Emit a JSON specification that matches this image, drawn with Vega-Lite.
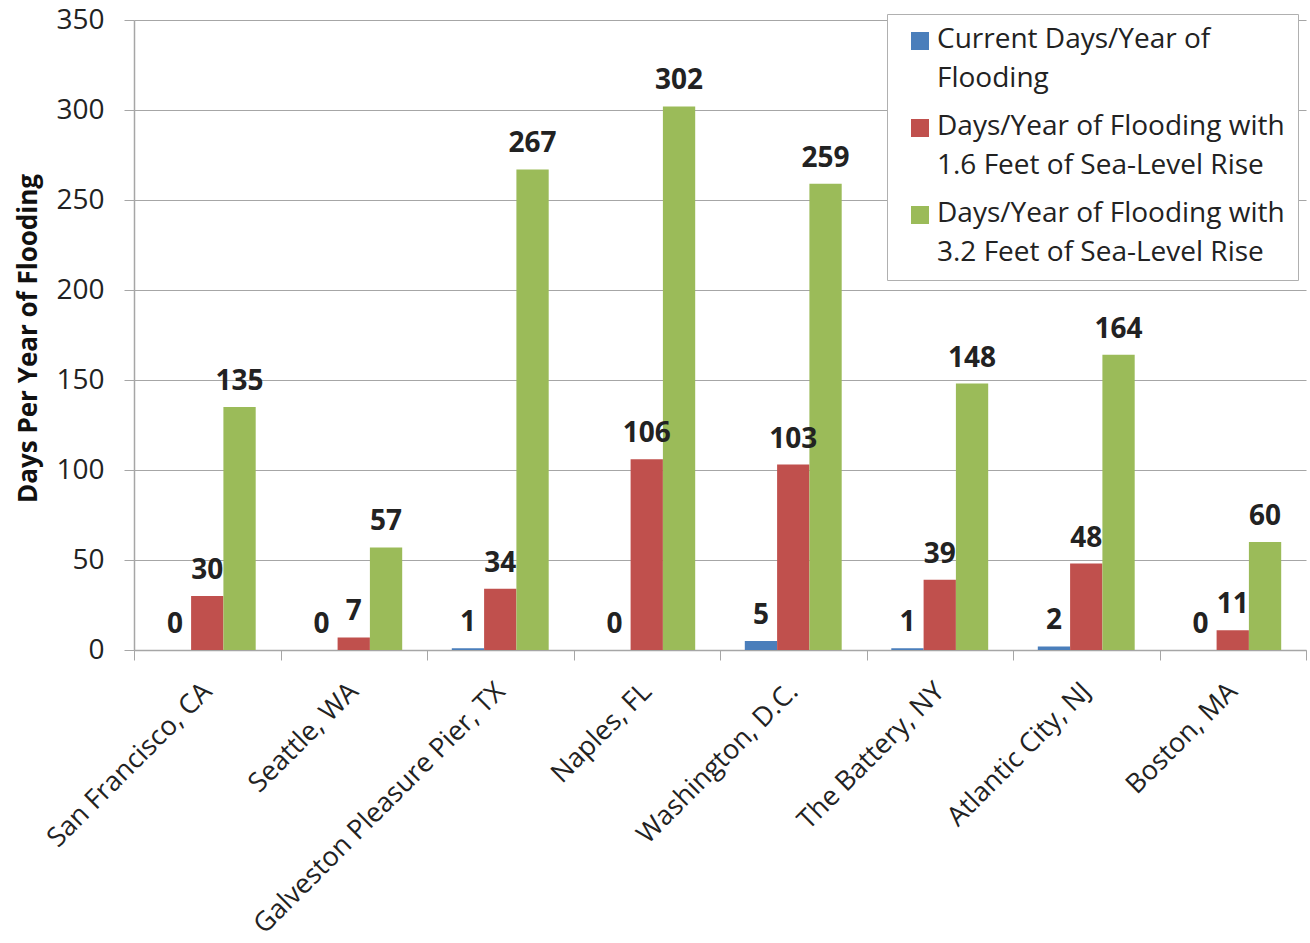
{
  "$schema": "https://vega.github.io/schema/vega-lite/v6.json",
  "width": 1172,
  "height": 630,
  "autosize": {"type": "none"},
  "padding": {"left": 134, "top": 20, "right": 4, "bottom": 293},
  "background": "white",
  "config": {
    "view": {"stroke": null},
    "font": "Open Sans",
    "axis": {"labelFont": "Open Sans", "titleFont": "Open Sans"},
    "legend": {"labelFont": "Open Sans"}
  },
  "data": {
    "values": [
      {"city": "San Francisco, CA", "series": "Current Days/Year of Flooding", "days": 0},
      {"city": "San Francisco, CA", "series": "Days/Year of Flooding with 1.6 Feet of Sea-Level Rise", "days": 30},
      {"city": "San Francisco, CA", "series": "Days/Year of Flooding with 3.2 Feet of Sea-Level Rise", "days": 135},
      {"city": "Seattle, WA", "series": "Current Days/Year of Flooding", "days": 0},
      {"city": "Seattle, WA", "series": "Days/Year of Flooding with 1.6 Feet of Sea-Level Rise", "days": 7},
      {"city": "Seattle, WA", "series": "Days/Year of Flooding with 3.2 Feet of Sea-Level Rise", "days": 57},
      {"city": "Galveston Pleasure Pier, TX", "series": "Current Days/Year of Flooding", "days": 1},
      {"city": "Galveston Pleasure Pier, TX", "series": "Days/Year of Flooding with 1.6 Feet of Sea-Level Rise", "days": 34},
      {"city": "Galveston Pleasure Pier, TX", "series": "Days/Year of Flooding with 3.2 Feet of Sea-Level Rise", "days": 267},
      {"city": "Naples, FL", "series": "Current Days/Year of Flooding", "days": 0},
      {"city": "Naples, FL", "series": "Days/Year of Flooding with 1.6 Feet of Sea-Level Rise", "days": 106},
      {"city": "Naples, FL", "series": "Days/Year of Flooding with 3.2 Feet of Sea-Level Rise", "days": 302},
      {"city": "Washington, D.C.", "series": "Current Days/Year of Flooding", "days": 5},
      {"city": "Washington, D.C.", "series": "Days/Year of Flooding with 1.6 Feet of Sea-Level Rise", "days": 103},
      {"city": "Washington, D.C.", "series": "Days/Year of Flooding with 3.2 Feet of Sea-Level Rise", "days": 259},
      {"city": "The Battery, NY", "series": "Current Days/Year of Flooding", "days": 1},
      {"city": "The Battery, NY", "series": "Days/Year of Flooding with 1.6 Feet of Sea-Level Rise", "days": 39},
      {"city": "The Battery, NY", "series": "Days/Year of Flooding with 3.2 Feet of Sea-Level Rise", "days": 148},
      {"city": "Atlantic City, NJ", "series": "Current Days/Year of Flooding", "days": 2},
      {"city": "Atlantic City, NJ", "series": "Days/Year of Flooding with 1.6 Feet of Sea-Level Rise", "days": 48},
      {"city": "Atlantic City, NJ", "series": "Days/Year of Flooding with 3.2 Feet of Sea-Level Rise", "days": 164},
      {"city": "Boston, MA", "series": "Current Days/Year of Flooding", "days": 0},
      {"city": "Boston, MA", "series": "Days/Year of Flooding with 1.6 Feet of Sea-Level Rise", "days": 11},
      {"city": "Boston, MA", "series": "Days/Year of Flooding with 3.2 Feet of Sea-Level Rise", "days": 60}
    ]
  },
  "encoding": {
    "x": {
      "field": "city",
      "type": "nominal",
      "sort": null,
      "scale": {"paddingInner": 0, "paddingOuter": 0},
      "axis": {
        "title": null,
        "labelAngle": -45,
        "labelAlign": "right",
        "labelBaseline": "middle",
        "labelFontSize": 27,
        "labelColor": "#222222",
        "labelPadding": 27,
        "labelLimit": 0,
        "tickBand": "extent",
        "tickSize": 10,
        "tickColor": "#a6a6a6",
        "domainColor": "#a6a6a6",
        "domainWidth": 1.5,
        "grid": false
      }
    },
    "xOffset": {
      "field": "series",
      "type": "nominal",
      "sort": null,
      "scale": {"paddingInner": 0, "paddingOuter": 0.768}
    },
    "y": {
      "field": "days",
      "type": "quantitative",
      "scale": {"domain": [0, 350], "nice": false},
      "axis": {
        "values": [0, 50, 100, 150, 200, 250, 300, 350],
        "title": "Days Per Year of Flooding",
        "titleFontSize": 26,
        "titleFontWeight": "bold",
        "titleColor": "#111111",
        "titleAngle": -90,
        "titleX": -106,
        "titleY": 318,
        "titleAlign": "center",
        "titleBaseline": "middle",
        "labelFontSize": 28,
        "labelColor": "#222222",
        "labelPadding": 20,
        "tickSize": 10,
        "tickColor": "#a6a6a6",
        "domainColor": "#a6a6a6",
        "domainWidth": 1.5,
        "gridColor": "#a6a6a6",
        "gridWidth": 1.2
      }
    }
  },
  "layer": [
    {
      "mark": {"type": "bar"},
      "encoding": {
        "color": {
          "field": "series",
          "type": "nominal",
          "sort": null,
          "scale": {"range": ["#4A7EBB", "#C0504D", "#9BBB59"]},
          "legend": {
            "title": null,
            "orient": "none",
            "legendX": 753,
            "legendY": -6,
            "fillColor": "white",
            "strokeColor": "#b0b0b0",
            "padding": 13,
            "symbolType": "square",
            "symbolSize": 324,
            "symbolStrokeWidth": 0,
            "symbolOffset": 6,
            "labelFontSize": 28,
            "labelColor": "#222222",
            "labelLimit": 600,
            "labelOffset": 3,
            "labelBaseline": "top",
            "rowPadding": 20,
            "labelExpr": "datum.label == 'Current Days/Year of Flooding' ? ['Current Days/Year of', 'Flooding'] : (indexof(datum.label, '1.6') >= 0 ? ['Days/Year of Flooding with', '1.6 Feet of Sea-Level Rise'] : ['Days/Year of Flooding with', '3.2 Feet of Sea-Level Rise'])",
            "encode": {
              "labels": {"update": {"lineHeight": {"value": 39}, "dy": {"value": -15}}}
            }
          }
        }
      }
    },
    {
      "mark": {"type": "text", "baseline": "alphabetic", "dy": -17, "fontSize": 28, "fontWeight": "bold", "color": "#222222"},
      "encoding": {
        "text": {"field": "days", "type": "quantitative"}
      }
    }
  ]
}
